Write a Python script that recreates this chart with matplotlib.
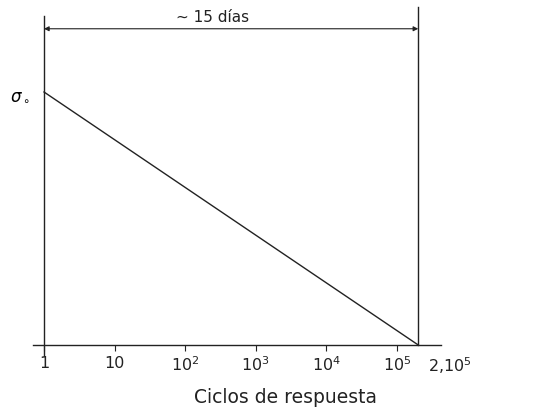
import matplotlib.pyplot as plt
import numpy as np

# data: stress falls linearly (in log cycles) from sigma_o at 1 cycle to 0 at 2*10^5
cycles = [1, 2e5]
stress = [1.0, 0.0]
tick_pos = [1, 10, 1e2, 1e3, 1e4, 1e5]
tick_labels = ["1", "10", "$10^2$", "$10^3$", "$10^4$", "$10^5$"]
span_label = "~ 15 días"

plt.rcParams["font.family"] = ["DejaVu Sans"]
plt.rcParams["mathtext.fontset"] = "dejavusans"

fig = plt.figure(figsize=(5.42, 4.10), dpi=100)
W, H = 542, 410
# axes spans px x 33..441, y 8..346
ax = fig.add_axes([33 / W, 1 - 346 / H, (441 - 33) / W, (346 - 8) / H])
ax.set_xscale("log")
ax.set_xlim(0.698, 4.2e5)
ax.set_ylim(0, 1.336)

for s in ["top", "right", "left"]:
    ax.spines[s].set_visible(False)
ax.spines["bottom"].set_linewidth(1.0)
ax.spines["bottom"].set_color("#222222")

ax.plot(cycles, stress, color="#222222", lw=1.0)

# frame lines at start and end
ax.plot([cycles[0], cycles[0]], [-0.04, 1.30], color="#222222", lw=1.0, clip_on=False)
ax.plot([cycles[1], cycles[1]], [0, 1.336], color="#222222", lw=1.0, clip_on=False)

# span arrow
ax.annotate("", xy=(cycles[0], 1.25), xytext=(cycles[1], 1.25),
            arrowprops=dict(arrowstyle="<|-|>", color="#222222", lw=0.8,
                            mutation_scale=7, shrinkA=0, shrinkB=0))
ax.text(np.sqrt(cycles[0] * cycles[1]) * 0.55, 1.30, span_label, ha="center",
        va="center", fontsize=11, color="#222222")

ax.set_xticks(tick_pos, labels=tick_labels)
ax.minorticks_off()
ax.tick_params(axis="x", direction="out", length=4, width=0.8, color="#222222",
               labelsize=11.5, labelcolor="#222222", pad=3)
ax.annotate("$2{,}10^5$", xy=(cycles[1], 0), xytext=(7, -7),
            textcoords="offset points", ha="left", va="top", fontsize=11.5,
            color="#222222")

ax.set_yticks([stress[0]], labels=[r"$\sigma_\circ$"])
ax.tick_params(axis="y", length=0, labelsize=12, pad=2)

ax.set_xlabel("Ciclos de respuesta", fontsize=13.5, color="#222222")
ax.xaxis.set_label_coords(0.62, -0.125)

fig.savefig("out.png", dpi=100)
